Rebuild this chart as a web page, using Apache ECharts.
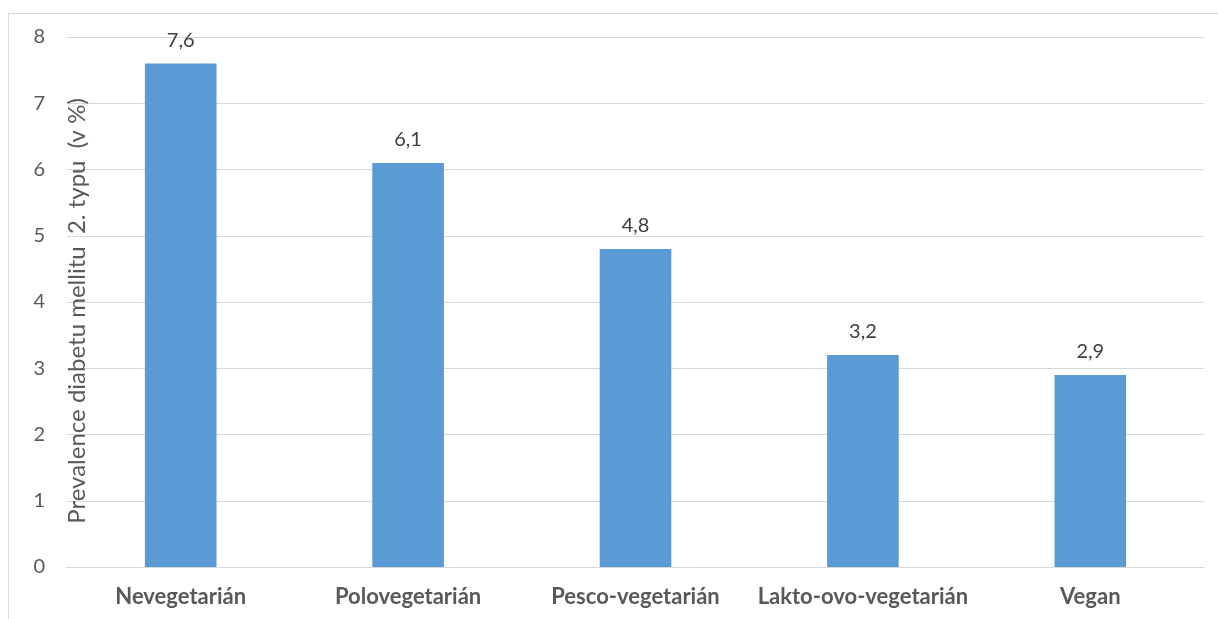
<!DOCTYPE html>
<html>
<head>
<meta charset="utf-8">
<script src="https://cdn.jsdelivr.net/npm/echarts@6/dist/echarts.min.js"></script>
<style>
  html, body { margin: 0; padding: 0; background: #ffffff; }
  #chart { width: 1218px; height: 619px; }
</style>
</head>
<body>
<div id="chart"></div>
<script>
// Prevalence of type 2 diabetes by diet type
const categories = ['Nevegetarián', 'Polovegetarián', 'Pesco-vegetarián', 'Lakto-ovo-vegetarián', 'Vegan'];
const prevalence = [7.6, 6.1, 4.8, 3.2, 2.9];
const yTicks = [0, 1, 2, 3, 4, 5, 6, 7, 8];
const yTitle = 'Prevalence diabetu mellitu  2. typu  (v %)';

const FONT = 'Lato';
const chart = echarts.init(document.getElementById('chart'));

chart.setOption({
  animation: false,
  backgroundColor: '#ffffff',
  graphic: [
    // frame lines along the top and left edge
    { type: 'line', shape: { x1: 8.5, y1: 13.5, x2: 1218, y2: 13.5 }, style: { stroke: '#d9d9d9', lineWidth: 1 } },
    { type: 'line', shape: { x1: 8.5, y1: 13.5, x2: 8.5, y2: 619 }, style: { stroke: '#d9d9d9', lineWidth: 1 } },
    // vertical axis title, sitting just inside the plot area
    {
      type: 'text',
      x: 77, y: 311,
      rotation: Math.PI / 2,
      z: 10,
      style: {
        text: yTitle,
        fill: '#595959',
        font: '24px ' + FONT,
        align: 'center',
        verticalAlign: 'middle'
      }
    }
  ],
  grid: { left: 67, right: 14, top: 37, bottom: 52, containLabel: false },
  xAxis: {
    type: 'category',
    data: categories,
    axisLine: { lineStyle: { color: '#d9d9d9' } },
    axisTick: { show: false },
    axisLabel: { interval: 0, color: '#595959', fontFamily: FONT, fontWeight: 'bold', fontSize: 22, margin: 19 }
  },
  yAxis: {
    type: 'value',
    min: yTicks[0],
    max: yTicks[yTicks.length - 1],
    interval: 1,
    axisLine: { show: false },
    axisTick: { show: false },
    splitLine: { lineStyle: { color: '#d9d9d9', width: 1 } },
    axisLabel: { color: '#595959', fontFamily: FONT, fontSize: 20, margin: 22 }
  },
  series: [{
    type: 'bar',
    data: prevalence,
    barWidth: '31.5%',
    itemStyle: { color: '#5b9bd5' },
    label: {
      show: true,
      position: 'top',
      distance: 13,
      color: '#404040',
      fontFamily: FONT,
      fontSize: 20,
      formatter: p => String(p.value).replace('.', ',')
    }
  }]
});
</script>
</body>
</html>
